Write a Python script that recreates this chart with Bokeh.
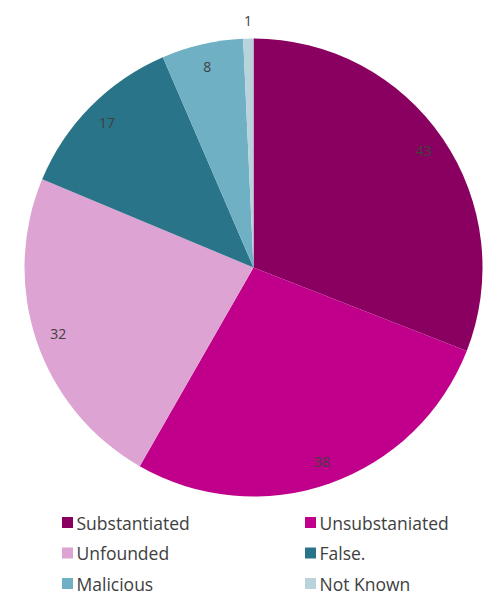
import numpy as np
from bokeh.plotting import figure
from bokeh.models import Range1d, ColumnDataSource
from bokeh.core.properties import value
from bokeh.embed import file_html
from bokeh.resources import INLINE

categories = ["Substantiated", "Unsubstaniated", "Unfounded", "False.", "Malicious", "Not Known"]
counts = [43, 38, 32, 17, 8, 1]
colors = ["#8A0060", "#C0008A", "#DDA3D2", "#2A7489", "#6FB0C4", "#B9D3DC"]

W, H = 484, 595
cx, cy, R = 253, H - 267, 229

p = figure(width=W, height=H, output_backend="svg", toolbar_location=None,
           x_range=Range1d(0, W), y_range=Range1d(0, H), min_border=0)
p.axis.visible = False
p.grid.visible = False
p.outline_line_color = None
p.background_fill_color = "white"

vals = np.array(counts, dtype=float)
frac = vals / vals.sum()
cum = np.concatenate([[0], np.cumsum(frac)])
start = np.pi / 2 - cum[:-1] * 2 * np.pi
end = np.pi / 2 - cum[1:] * 2 * np.pi
mid = (start + end) / 2

src = ColumnDataSource(dict(start=start, end=end, color=colors, cat=categories))
p.wedge(x=cx, y=cy, radius=R, start_angle="start", end_angle="end",
        direction="clock", fill_color="color", line_color=None, source=src)

lr = np.where(frac < 0.03, R + 18, R * 0.9)
lx = cx + lr * np.cos(mid)
ly = cy + lr * np.sin(mid)
p.text(x=lx, y=ly, text=[str(c) for c in counts], text_align="center",
       text_baseline="middle", text_font=value("Open Sans"),
       text_font_size="14px", text_color="#404040")

# legend, two columns
idx = np.arange(len(categories))
col = idx % 2
row = idx // 2
sq_x = 67 + col * 243
ly0 = H - 522 - row * 30.5
p.scatter(x=sq_x, y=ly0, marker="square", size=11, fill_color=colors, line_color=None)
p.text(x=sq_x + 9, y=ly0, text=categories, text_align="left", text_baseline="middle",
       text_font=value("Open Sans"), text_font_size="17.5px", text_color="#404040")

open("out.html", "w").write(file_html(p, INLINE))
